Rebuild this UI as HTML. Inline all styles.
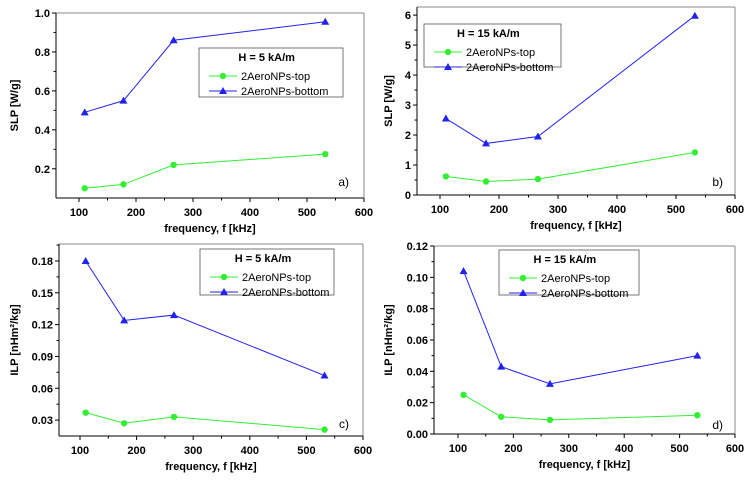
<!DOCTYPE html>
<html><head><meta charset="utf-8"><style>
html,body{margin:0;padding:0;background:#fff;}
svg{display:block;font-family:"Liberation Sans",Arial,sans-serif;}
</style></head><body>
<svg id="c" width="754" height="482"></svg>
<script>
const freqs = [110, 178, 266, 532];
const aTop = [0.10, 0.12, 0.22, 0.275];
const aBottom = [0.49, 0.55, 0.86, 0.955];
const bTop = [0.62, 0.45, 0.53, 1.42];
const bBottom = [2.55, 1.72, 1.95, 5.98];
const cTop = [0.037, 0.027, 0.033, 0.021];
const cBottom = [0.180, 0.124, 0.129, 0.072];
const dTop = [0.025, 0.011, 0.009, 0.012];
const dBottom = [0.104, 0.043, 0.032, 0.050];
const xTicks = [100, 200, 300, 400, 500, 600];
const aTicks = ["0.2","0.4","0.6","0.8","1.0"];
const bTicks = ["0","1","2","3","4","5","6"];
const cTicks = ["0.03","0.06","0.09","0.12","0.15","0.18"];
const dTicks = ["0.00","0.02","0.04","0.06","0.08","0.10","0.12"];

const NS="http://www.w3.org/2000/svg";
const svg=document.getElementById('c');
function mk(tag,attrs,parent,text){const e=document.createElementNS(NS,tag);for(const k in attrs)e.setAttribute(k,attrs[k]);if(text!==undefined)e.textContent=text;(parent||svg).appendChild(e);return e;}

const panels=[
 {id:'a',box:[56,13,364,198],x0:100,x1:600,px0:79,px1:364,ymin:0.05,ymax:1.0,yticks:aTicks,minor:0.1,top:aTop,bot:aBottom,yt:'SLP [W/g]',h:'H = 5 kA/m',leg:[199,48,343,97],lab:'a)',lx:349,ly:186,ytx:18},
 {id:'b',box:[417,7,735,195],x0:100,x1:600,px0:440,px1:735,ymin:0,ymax:6.27,yticks:bTicks,minor:0.5,top:bTop,bot:bBottom,yt:'SLP [W/g]',h:'H = 15 kA/m',leg:[424,24,561,67],lab:'b)',lx:723,ly:186,ytx:392},
 {id:'c',box:[59,244,363,436],x0:100,x1:600,px0:80,px1:363,ymin:0.015,ymax:0.196,yticks:cTicks,minor:0.015,top:cTop,bot:cBottom,yt:'ILP [nHm²/kg]',h:'H = 5 kA/m',leg:[200,249,334,295],lab:'c)',lx:349,ly:428,ytx:18},
 {id:'d',box:[434,246,735,434],x0:100,x1:600,px0:458,px1:735,ymin:0,ymax:0.12,yticks:dTicks,minor:0.01,top:dTop,bot:dBottom,yt:'ILP [nHm²/kg]',h:'H = 15 kA/m',leg:[499,250,639,295],lab:'d)',lx:723,ly:429,ytx:392}
];
const [,y0a]=[0,0];
panels.forEach(p=>{
 const g=mk('g',{});
 
 
 const [L,T,R,B]=p.box;
 const sx=v=>p.px0+(v-p.x0)*(p.px1-p.px0)/(p.x1-p.x0);
 const sy=v=>B-(v-p.ymin)*(B-T)/(p.ymax-p.ymin);
 mk('line',{x1:L,y1:T,x2:R,y2:T,stroke:'#888','stroke-width':1},g);
 mk('line',{x1:R,y1:T,x2:R,y2:B,stroke:'#888','stroke-width':1},g);
 mk('line',{x1:L,y1:T,x2:L,y2:B,stroke:'#000','stroke-width':1},g);
 mk('line',{x1:L,y1:B,x2:R,y2:B,stroke:'#000','stroke-width':1},g);
 // x ticks
 xTicks.forEach(t=>{const x=sx(t);mk('line',{x1:x,y1:B,x2:x,y2:B+4,stroke:'#000'},g);
  const tx=mk('text',{x:x,y:B+18,'text-anchor':'middle','font-size':11,'font-weight':'bold'},g,String(t));
  
  if(t<600){const xm=sx(t+50);mk('line',{x1:xm,y1:B,x2:xm,y2:B+2.5,stroke:'#000'},g);}});
 const xmn=sx(50); if(xmn>L) mk('line',{x1:xmn,y1:B,x2:xmn,y2:B+2.5,stroke:'#000'},g);
 // y ticks
 p.yticks.forEach(s=>{const v=parseFloat(s),y=sy(v);mk('line',{x1:L-4,y1:y,x2:L,y2:y,stroke:'#000'},g);
  const tx=mk('text',{x:L-6,y:y+4,'text-anchor':'end','font-size':11,'font-weight':'bold'},g,s);
  
  const ym=sy(v+p.minor); if(ym>T) mk('line',{x1:L-2.5,y1:ym,x2:L,y2:ym,stroke:'#000'},g);});
 const xt=mk('text',{x:(L+R)/2,y:B+34,'text-anchor':'middle','font-size':11,'font-weight':'bold'},g,'frequency, f [kHz]');
 
 const yt=mk('text',{x:0,y:0,'text-anchor':'middle','font-size':11,'font-weight':'bold',transform:`translate(${p.ytx},${(T+B)/2}) rotate(-90)`},g,p.yt);
 
 const lb=mk('text',{x:p.lx,y:p.ly,'text-anchor':'end','font-size':12},g,p.lab);
 
 // series
 [[p.top,'#33ee33','circle'],[p.bot,'#2222ee','tri']].forEach(([vals,col,m])=>{
  const pts=vals.map((v,i)=>sx(freqs[i])+','+sy(v)).join(' ');
  const pl=mk('polyline',{points:pts,fill:'none',stroke:col,'stroke-width':1},g);
  
  vals.forEach((v,i)=>{const x=sx(freqs[i]),y=sy(v);let e;
   if(m==='circle')e=mk('circle',{cx:x,cy:y,r:3.2,fill:col},g);
   else e=mk('polygon',{points:`${x},${y-4} ${x-4},${y+3} ${x+4},${y+3}`,fill:col},g);
   });
 });
 // legend
 const [a,b,c,d]=p.leg;
 const lg=mk('g',{},g);
 
 mk('rect',{x:a,y:b,width:c-a,height:d-b,fill:'#fff',stroke:'#555','stroke-width':0.8},lg);
 mk('text',{x:a+(c-a)*0.47,y:b+13,'text-anchor':'middle','font-size':11,'font-weight':'bold'},lg,p.h);
 const rows=[['2AeroNPs-top','#33ee33','circle'],['2AeroNPs-bottom','#2222ee','tri']];
 rows.forEach((r,i)=>{const y=b+28+i*15;const x0=a+10;
  mk('line',{x1:x0,y1:y,x2:x0+28,y2:y,stroke:r[1]},lg);
  if(r[2]==='circle')mk('circle',{cx:x0+14,cy:y,r:3.2,fill:r[1]},lg);
  else mk('polygon',{points:`${x0+14},${y-4} ${x0+10},${y+3} ${x0+18},${y+3}`,fill:r[1]},lg);
  const t=mk('text',{x:x0+32,y:y+4,'font-size':11},lg,r[0]);
  });
});
</script>
</body></html>
